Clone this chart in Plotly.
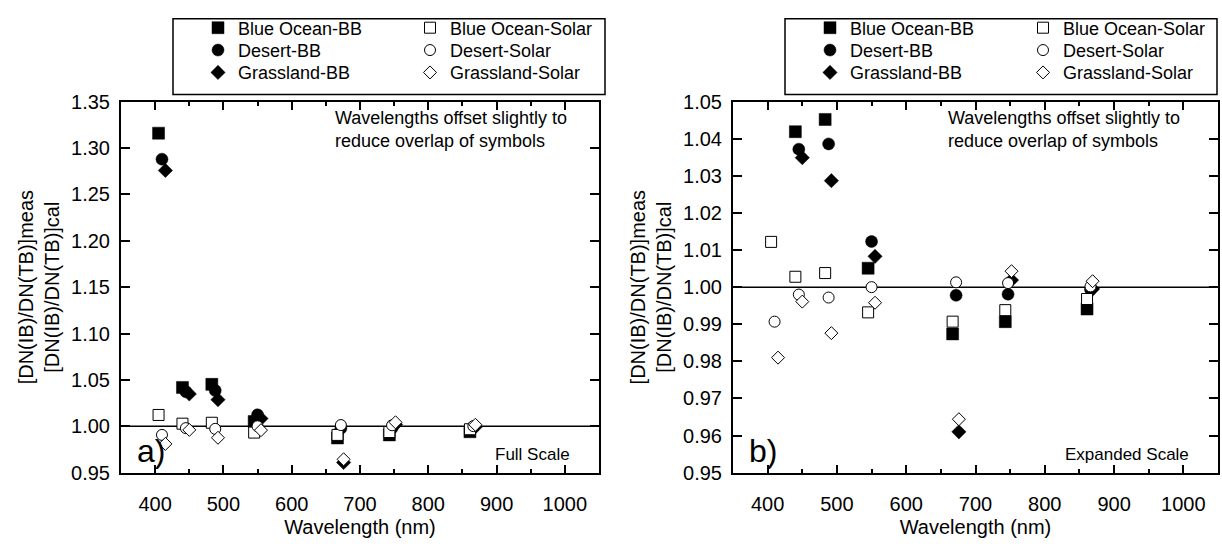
import plotly.graph_objects as go

W, H = 1222, 549

# Wavelengths (nm) - offset slightly per site to reduce overlap
wl_blue_ocean = [405, 440, 483, 545, 667, 743, 861]
wl_desert = [410, 445, 488, 550, 672, 747, 866]
wl_grassland = [415, 450, 492, 555, 676, 752, 869]

# Ratio values
blue_ocean_bb = [1.316, 1.0419, 1.0452, 1.0051, 0.9874, 0.9907, 0.9941]
desert_bb = [1.288, 1.0372, 1.0386, 1.0123, 0.9978, 0.9981, 0.9994]
grassland_bb = [1.2758, 1.0349, 1.0287, 1.0083, 0.9610, 1.0019, 0.9995]
blue_ocean_solar = [1.0122, 1.0028, 1.0038, 0.9932, 0.9907, 0.9938, 0.9968]
desert_solar = [0.9907, 0.9980, 0.9972, 1.0000, 1.0013, 1.0011, 1.0002]
grassland_solar = [0.9810, 0.9961, 0.9876, 0.9958, 0.9644, 1.0043, 1.0016]

x_ticks = [400, 500, 600, 700, 800, 900, 1000]
y_ticks_a = [0.95, 1.00, 1.05, 1.10, 1.15, 1.20, 1.25, 1.30, 1.35]
y_ticks_b = [0.95, 0.96, 0.97, 0.98, 0.99, 1.00, 1.01, 1.02, 1.03, 1.04, 1.05]

FONT = "Liberation Sans, Arial, sans-serif"

series = [
    ("Blue Ocean-BB", wl_blue_ocean, blue_ocean_bb, "square", "black", 12, 0),
    ("Desert-BB", wl_desert, desert_bb, "circle", "black", 12, 0),
    ("Grassland-BB", wl_grassland, grassland_bb, "diamond", "black", 11, 0),
    ("Blue Ocean-Solar", wl_blue_ocean, blue_ocean_solar, "square", "white", 11, 1),
    ("Desert-Solar", wl_desert, desert_solar, "circle", "white", 11, 1),
    ("Grassland-Solar", wl_grassland, grassland_solar, "diamond", "white", 10, 1),
]

# legend layout (pixel positions of text start per column, row anchors)
col_text_x = {0: (238, 450), 1: (850, 1063)}
row_y = [17.7, 41.0, 64.3]
leg_font = dict(size=18, family=FONT, color="black")

fig = go.Figure()
legends = {}
leg_idx = 0
for panel, (xa, ya) in enumerate([("x", "y"), ("x2", "y2")]):
    for i, (name, xs, ys, sym, fill, size, lw) in enumerate(series):
        leg_idx += 1
        lname = "legend" if leg_idx == 1 else f"legend{leg_idx}"
        col = 0 if i < 3 else 1
        row = i % 3
        legends[lname] = dict(
            x=(col_text_x[panel][col] - 40) / W, xanchor="left",
            y=1 - row_y[row] / H, yanchor="middle",
            orientation="v", bgcolor="rgba(0,0,0,0)", borderwidth=0,
            font=leg_font, itemwidth=30)
        fig.add_trace(go.Scatter(
            x=xs, y=ys, name=name, mode="markers",
            xaxis=xa, yaxis=ya, legend=lname,
            marker=dict(symbol=sym, color=fill, size=size,
                        line=dict(color="black", width=lw if lw else 0.5)),
            showlegend=True,
        ))

def xaxis_common(domain, anchor):
    return dict(
        domain=domain, anchor=anchor, range=[350, 1050],
        tickmode="array", tickvals=x_ticks, ticktext=[str(v) for v in x_ticks],
        ticks="inside", ticklen=8, tickwidth=1.5, tickcolor="black",
        minor=dict(dtick=50, tick0=0, ticks="inside", ticklen=4, tickwidth=1.5, tickcolor="black"),
        showline=True, linewidth=2, linecolor="black", mirror="ticks",
        showgrid=False, zeroline=False,
        tickfont=dict(size=20, family=FONT, color="black"),
        ticklabelstandoff=12,
        title=dict(text="Wavelength (nm)", font=dict(size=20, family=FONT, color="black"), standoff=6),
    )

def yaxis_common(domain, anchor, rng, ticks):
    return dict(
        domain=domain, anchor=anchor, range=rng,
        tickmode="array", tickvals=ticks, ticktext=[f"{v:.2f}" for v in ticks],
        ticks="inside", ticklen=9, tickwidth=1.5, tickcolor="black",
        showline=True, linewidth=2, linecolor="black", mirror="ticks",
        showgrid=False, zeroline=False,
        tickfont=dict(size=20, family=FONT, color="black"),
        ticklabelstandoff=5,
        title=dict(text="[DN(IB)/DN(TB)]meas<br>[DN(IB)/DN(TB)]cal",
                   font=dict(size=20, family=FONT, color="black"), standoff=6),
    )

ydom = [0.124, 0.828]

fig.update_layout(
    width=W, height=H,
    margin=dict(l=0, r=0, t=0, b=0),
    paper_bgcolor="white", plot_bgcolor="white",
    font=dict(family=FONT, color="black"),
    xaxis=xaxis_common([121 / W, 599 / W], "y"),
    yaxis=yaxis_common(ydom, "x", [0.95, 1.35], y_ticks_a),
    xaxis2=xaxis_common([733 / W, 1218 / W], "y2"),
    yaxis2=yaxis_common(ydom, "x2", [0.95, 1.05], y_ticks_b),
    shapes=[
        dict(type="rect", xref="paper", yref="paper", x0=173 / W, x1=605 / W,
             y0=1 - 87 / H, y1=1 - 8 / H, line=dict(color="black", width=1.5)),
        dict(type="rect", xref="paper", yref="paper", x0=785 / W, x1=1217 / W,
             y0=1 - 87 / H, y1=1 - 8 / H, line=dict(color="black", width=1.5)),
        dict(type="line", xref="x domain", yref="y", x0=0, x1=1, y0=1.0, y1=1.0,
             line=dict(color="black", width=1.5), layer="below"),
        dict(type="line", xref="x2 domain", yref="y2", x0=0, x1=1, y0=1.0, y1=1.0,
             line=dict(color="black", width=1.5), layer="below"),
    ],
)
fig.update_layout(**legends)

note = "Wavelengths offset slightly to<br>reduce overlap of symbols"
ann = []
for xl in (333, 946):
    ann.append(dict(text=note, xref="paper", yref="paper", x=xl / W, y=1 - 123 / H,
                    xanchor="left", yanchor="middle", align="left", showarrow=False,
                    font=dict(size=18, family=FONT, color="black")))
ann.append(dict(text="a)", xref="paper", yref="paper", x=135 / W, y=1 - 458 / H,
                xanchor="left", yanchor="middle", showarrow=False,
                font=dict(size=32, family=FONT, color="black")))
ann.append(dict(text="b)", xref="paper", yref="paper", x=747 / W, y=1 - 458 / H,
                xanchor="left", yanchor="middle", showarrow=False,
                font=dict(size=32, family=FONT, color="black")))
ann.append(dict(text="Full Scale", xref="paper", yref="paper", x=572 / W, y=1 - 462 / H,
                xanchor="right", yanchor="middle", showarrow=False,
                font=dict(size=17, family=FONT, color="black")))
ann.append(dict(text="Expanded Scale", xref="paper", yref="paper", x=1191 / W, y=1 - 462 / H,
                xanchor="right", yanchor="middle", showarrow=False,
                font=dict(size=17, family=FONT, color="black")))
fig.update_layout(annotations=ann)

fig.write_html("out.html")
